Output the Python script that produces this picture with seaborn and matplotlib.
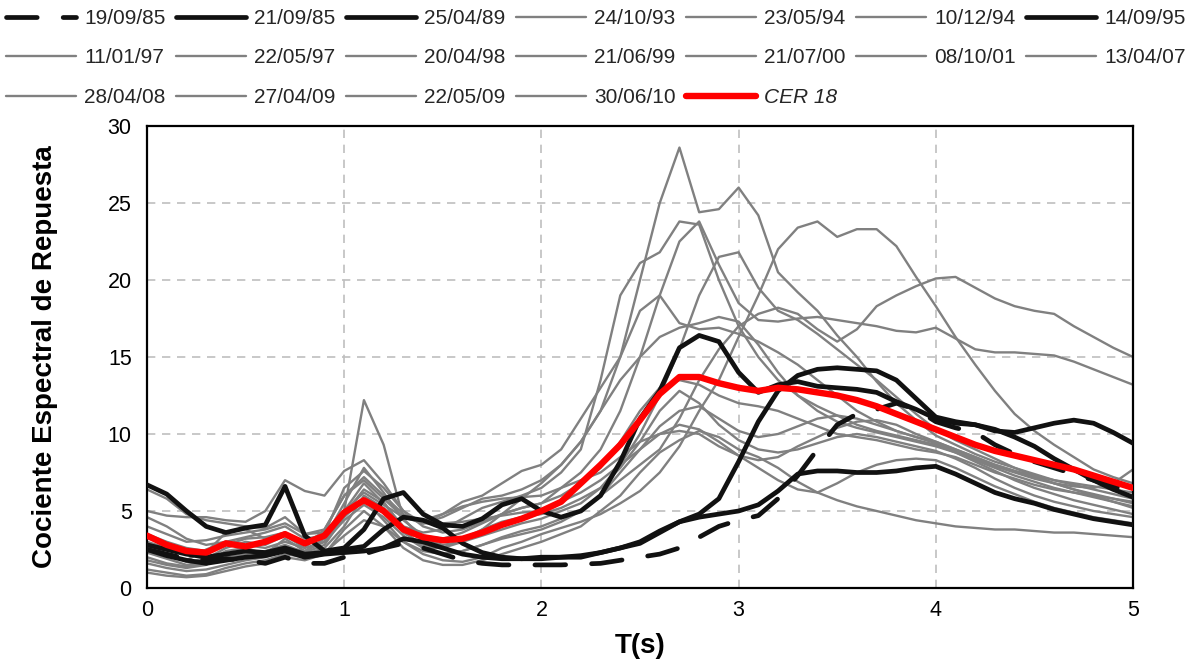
import numpy as np
import matplotlib
matplotlib.use("Agg")
import matplotlib.pyplot as plt
import seaborn as sns

# Period grid (s)
T = np.round(np.linspace(0, 5, 51), 2)

# ---- Black series ----
s_190985 = [2.5, 2.2, 1.9, 1.8, 1.9, 1.8, 1.6, 2.0, 1.6, 1.6,
            2.0, 2.2, 2.6, 2.9, 2.6, 2.2, 1.8, 1.6, 1.5, 1.5,
            1.5, 1.5, 1.55, 1.6, 1.8, 2.0, 2.2, 2.6, 3.3, 4.0,
            4.4, 4.7, 5.8, 7.3, 9.0, 10.6, 11.3, 11.6, 12.0, 11.6,
            10.8, 10.4, 10.1, 9.3, 8.7, 8.2, 7.8, 7.4, 7.0, 6.6, 6.2]
s_210985 = [2.8, 2.5, 2.2, 2.0, 2.2, 2.4, 2.3, 2.6, 2.2, 2.3,
            2.5, 2.7, 3.8, 4.6, 4.4, 3.9, 2.9, 2.3, 2.0, 1.9,
            1.9, 2.0, 2.0, 2.3, 2.6, 2.9, 3.6, 4.3, 4.6, 4.8,
            5.0, 5.4, 6.3, 7.4, 7.6, 7.6, 7.5, 7.5, 7.6, 7.8,
            7.9, 7.4, 6.8, 6.2, 5.8, 5.5, 5.1, 4.8, 4.5, 4.3, 4.1]
s_250489 = [2.5, 2.1, 1.8, 1.6, 1.8, 2.0, 2.1, 2.4, 2.0, 2.2,
            2.3, 2.4, 2.6, 3.2, 3.0, 2.6, 2.2, 2.0, 1.9, 1.9,
            2.0, 2.0, 2.1, 2.3, 2.6, 3.0, 3.7, 4.3, 4.8, 5.8,
            8.2, 10.8, 12.8, 13.8, 14.2, 14.3, 14.2, 14.1, 13.5, 12.3,
            11.1, 10.8, 10.6, 10.3, 9.8, 9.2, 8.4, 7.7, 7.0, 6.4, 5.9]
s_140995 = [6.7, 6.1, 5.0, 4.0, 3.6, 3.9, 4.1, 6.6, 3.4, 2.4,
            2.6, 3.8, 5.8, 6.2, 4.8, 4.1, 4.0, 4.5, 5.4, 5.8,
            5.0, 4.6, 5.0, 6.0, 8.2, 11.0, 12.8, 15.6, 16.4, 16.0,
            14.0, 12.7, 13.2, 13.4, 13.1, 13.0, 12.9, 12.7, 12.1, 11.6,
            11.0, 10.7, 10.6, 10.2, 10.1, 10.4, 10.7, 10.9, 10.7, 10.1, 9.4]

# ---- Gray series ----
s_241093 = [1.6, 1.3, 1.1, 1.2, 1.5, 1.8, 2.0, 2.4, 2.2, 2.6,
            4.0, 6.0, 5.2, 3.6, 2.8, 2.6, 3.0, 3.8, 4.8, 5.8,
            6.8, 8.0, 9.5, 11.5, 15.0, 20.0, 25.0, 28.6, 24.4, 24.6,
            26.0, 24.2, 20.5, 19.2, 18.0, 16.4, 15.0, 13.4, 12.0, 10.9,
            9.9, 9.3, 8.7, 8.2, 7.8, 7.4, 7.0, 6.7, 6.4, 6.1, 5.8]
s_230594 = [6.4, 5.8, 4.8, 4.4, 4.2, 4.0, 3.9, 4.6, 3.5, 3.6,
            5.0, 6.8, 5.5, 4.0, 3.6, 3.8, 4.5, 5.2, 5.6, 6.0,
            6.5, 7.5, 9.0, 13.5, 19.0, 21.1, 21.8, 23.8, 23.6, 20.0,
            17.0, 15.0, 13.5, 12.5, 11.8, 11.2, 10.6, 10.2, 9.9, 9.6,
            9.3, 8.8, 8.3, 7.8, 7.3, 6.9, 6.5, 6.2, 5.9, 5.6, 5.3]
s_101294 = [5.0, 4.7, 4.6, 4.6, 4.4, 4.3, 5.0, 7.0, 6.3, 6.0,
            7.6, 8.3, 6.8, 5.0, 4.0, 3.6, 3.8, 4.3, 4.8, 5.2,
            5.5, 6.5, 7.5, 9.0, 11.5, 15.0, 19.0, 22.5, 23.8, 21.0,
            18.5, 17.4, 17.3, 17.5, 17.6, 17.4, 17.2, 17.0, 16.7, 16.6,
            16.9, 16.2, 15.5, 15.3, 15.3, 15.2, 15.1, 14.7, 14.2, 13.7, 13.2]
s_110197 = [3.5, 3.0, 2.6, 2.4, 2.8, 3.2, 3.3, 3.6, 3.0, 3.6,
            5.0, 12.2, 9.3, 4.5, 3.2, 2.8, 3.0, 3.4, 3.8, 4.2,
            4.5, 5.0, 5.5, 6.5, 8.0, 10.0, 12.5, 15.5, 19.0, 21.5,
            21.8, 19.5, 18.0, 17.4, 16.5, 15.5, 14.5, 13.5, 12.4, 11.3,
            10.3, 9.6, 9.0, 8.4, 7.8, 7.3, 6.8, 6.4, 6.0, 5.6, 5.2]
s_220597 = [3.0, 2.6, 2.2, 2.3, 3.6, 3.8, 3.2, 3.6, 2.8, 3.5,
            6.5, 7.6, 6.5, 5.0, 4.2, 4.8, 5.6, 6.0, 6.8, 7.6,
            8.0, 9.0, 11.0, 13.0, 15.0, 18.0, 19.0, 17.2, 16.8, 16.9,
            16.5, 16.0, 15.3, 14.5, 13.5, 12.5, 11.5, 10.8, 10.2, 9.8,
            9.5, 9.0, 8.5, 8.0, 7.6, 7.2, 6.8, 6.4, 6.1, 5.8, 5.5]
s_200498 = [2.8, 2.2, 1.8, 2.5, 3.0, 2.8, 2.6, 3.0, 2.6, 3.8,
            6.0, 7.0, 5.8, 4.6, 4.2, 4.6, 5.2, 5.8, 6.0, 6.4,
            7.0, 8.0, 9.5, 11.5, 13.5, 15.0, 16.3, 16.9, 17.2, 17.6,
            17.3, 15.8, 14.0, 12.5, 11.5, 10.8, 10.4, 10.1, 9.8, 9.5,
            9.2, 8.8, 8.2, 7.6, 7.0, 6.5, 6.1, 5.7, 5.4, 5.1, 4.8]
s_210699 = [1.2, 1.0, 0.8, 0.9, 1.3, 1.6, 1.8, 2.2, 2.0, 2.3,
            3.4, 4.4, 4.0, 3.0, 2.2, 1.8, 1.7, 2.0, 2.6, 3.0,
            3.5, 3.9, 4.3, 4.8, 5.5, 6.3, 7.5, 9.2, 11.5, 13.5,
            16.3, 19.0, 22.0, 23.4, 23.8, 22.8, 23.3, 23.3, 22.2, 20.2,
            18.3, 16.3, 14.5, 12.8, 11.3, 10.2, 9.3, 8.5, 7.7, 7.2, 6.8]
s_210700 = [2.0, 1.6, 1.4, 1.6, 2.0, 2.2, 2.4, 2.8, 2.3, 2.8,
            4.6, 5.8, 4.4, 3.0, 2.4, 2.2, 2.4, 2.8, 3.3, 3.7,
            4.0, 4.5, 5.0, 6.0, 7.0, 8.0, 9.0, 11.0, 13.5, 15.5,
            17.0, 17.8, 18.2, 17.8, 16.8, 16.0, 16.8, 18.3, 19.0, 19.6,
            20.1, 20.2, 19.5, 18.8, 18.3, 18.0, 17.8, 17.0, 16.3, 15.6, 15.0]
s_081001 = [1.0, 0.8, 0.7, 0.8, 1.1, 1.4, 1.6, 2.0, 1.8, 2.2,
            3.8, 5.0, 4.0, 2.6, 1.8, 1.5, 1.5, 1.8, 2.2, 2.6,
            3.0, 3.5, 4.0, 5.0, 6.0, 7.5, 8.8, 9.6, 10.2, 9.8,
            9.0, 8.5, 7.8, 6.9, 6.2, 5.7, 5.3, 5.0, 4.7, 4.4,
            4.2, 4.0, 3.9, 3.8, 3.8, 3.7, 3.6, 3.6, 3.5, 3.4, 3.3]
s_130407 = [2.3, 1.9, 1.5, 1.7, 2.4, 2.6, 2.2, 3.2, 2.4, 3.0,
            4.8, 6.4, 5.6, 3.8, 2.6, 2.2, 2.4, 2.8, 3.2, 3.5,
            3.8, 4.3, 5.0, 6.0, 7.5, 9.0, 10.0, 10.6, 10.3, 9.5,
            8.6, 7.8, 7.0, 6.4, 6.2, 6.8, 7.5, 8.0, 8.3, 8.4,
            8.3, 7.8, 7.2, 6.6, 6.1, 5.6, 5.2, 4.9, 4.6, 4.4, 4.2]
s_280408 = [4.0, 3.5, 3.0, 3.1, 3.4, 3.6, 3.8, 4.2, 3.5, 3.8,
            6.0, 7.2, 6.0, 4.8, 4.2, 4.2, 4.3, 4.5, 4.7, 4.9,
            5.0, 5.6, 6.2, 7.0, 8.0, 9.0, 10.5, 11.5, 11.8, 11.0,
            10.2, 9.8, 10.0, 10.5, 11.0, 11.2, 11.0, 10.6, 10.2, 9.8,
            9.4, 8.9, 8.4, 7.9, 7.5, 7.1, 6.8, 6.6, 6.5, 6.8, 7.7]
s_270409 = [1.8, 1.5, 1.3, 1.5, 2.2, 2.0, 2.3, 2.6, 2.4, 3.2,
            5.5, 7.8, 6.2, 4.4, 3.4, 3.2, 3.6, 4.2, 4.8, 5.2,
            5.5, 6.0, 6.8, 7.8, 9.5, 11.5, 13.0, 13.5, 13.2, 12.5,
            12.0, 11.8, 11.5, 11.0, 10.5, 10.0, 9.8, 9.6, 9.3, 9.0,
            8.8, 8.5, 8.0, 7.5, 7.1, 6.7, 6.4, 6.2, 6.0, 5.8, 5.6]
s_220509 = [2.6, 2.2, 1.7, 1.9, 2.6, 3.0, 2.8, 3.4, 2.6, 3.0,
            4.4, 5.4, 4.6, 3.4, 2.6, 2.6, 3.2, 3.8, 4.3, 4.6,
            4.8, 5.2, 5.8, 6.5, 7.8, 9.5, 11.5, 12.8, 12.0, 10.6,
            9.6, 9.0, 8.8, 9.0, 9.4, 9.8, 10.0, 9.8, 9.5, 9.2,
            8.9, 8.4, 7.8, 7.1, 6.5, 6.0, 5.6, 5.3, 5.0, 4.8, 4.6]
s_300610 = [4.6, 4.0, 3.2, 2.8, 3.0, 3.3, 3.6, 4.0, 3.2, 3.4,
            5.0, 6.2, 5.4, 4.6, 4.4, 4.8, 5.3, 5.6, 5.8, 5.9,
            6.0, 6.5, 7.0, 7.5, 8.5, 9.5, 10.0, 10.2, 10.0, 9.2,
            8.6, 8.3, 8.5, 9.2, 9.8, 10.4, 10.8, 10.9, 10.6, 10.0,
            9.5, 9.0, 8.5, 8.0, 7.6, 7.3, 7.0, 6.8, 6.6, 6.4, 6.2]

# ---- Red design spectrum ----
s_cer18 = [3.4, 2.8, 2.4, 2.3, 2.9, 2.7, 3.0, 3.5, 2.9, 3.4,
           4.9, 5.7, 5.0, 3.8, 3.3, 3.1, 3.2, 3.6, 4.1, 4.5,
           5.0, 5.6, 6.8, 8.0, 9.3, 10.9, 12.6, 13.7, 13.7, 13.3,
           13.0, 12.8, 13.0, 12.9, 12.7, 12.5, 12.2, 11.8, 11.3, 10.8,
           10.3, 9.8, 9.3, 8.9, 8.6, 8.3, 8.0, 7.7, 7.3, 6.9, 6.5]

# legend order (row-major as in the reference)
labels = ["19/09/85", "21/09/85", "25/04/89", "24/10/93", "23/05/94", "10/12/94", "14/09/95",
          "11/01/97", "22/05/97", "20/04/98", "21/06/99", "21/07/00", "08/10/01", "13/04/07",
          "28/04/08", "27/04/09", "22/05/09", "30/06/10", "CER 18"]
values = [s_190985, s_210985, s_250489, s_241093, s_230594, s_101294, s_140995,
          s_110197, s_220597, s_200498, s_210699, s_210700, s_081001, s_130407,
          s_280408, s_270409, s_220509, s_300610, s_cer18]
kinds = ["dash", "black", "black", "gray", "gray", "gray", "black",
         "gray", "gray", "gray", "gray", "gray", "gray", "gray",
         "gray", "gray", "gray", "gray", "red"]

style = {
    "dash": dict(color="#111111", lw=3.4, z=4),
    "black": dict(color="#111111", lw=3.4, z=3),
    "gray": dict(color="#808080", lw=1.7, z=2),
    "red": dict(color="#FF0000", lw=4.6, z=5),
}

sns.set_theme(style="white")
plt.rcParams["font.family"] = ["Liberation Sans", "DejaVu Sans"]

fig = plt.figure(figsize=(11.91, 6.64), dpi=100)
ax = fig.add_axes([147 / 1191, 1 - 588 / 664, (1133 - 147) / 1191, (588 - 126) / 664])

handles = {}
for lab, vals, kind in zip(labels, values, kinds):
    st = style[kind]
    sns.lineplot(x=T, y=vals, ax=ax, color=st["color"], linewidth=st["lw"],
                 estimator=None, sort=False, legend=False, zorder=st["z"])
    ln = ax.lines[-1]
    ln.set_solid_capstyle("round")
    ln.set_solid_joinstyle("round")
    if kind == "dash":
        ln.set_linestyle((0, (6.5, 5.5)))
        ln.set_dash_capstyle("round")
    handles[lab] = ln

ax.set_xlim(0, 5)
ax.set_ylim(0, 30)
ax.set_xticks(np.arange(0, 6, 1))
ax.set_yticks(np.arange(0, 31, 5))
ax.grid(True, color="#BFBFBF", linestyle=(0, (5, 4)), linewidth=1.2, zorder=0)
ax.set_axisbelow(True)
for sp in ax.spines.values():
    sp.set_color("black")
    sp.set_linewidth(1.6)
    sp.set_visible(True)
ax.tick_params(axis="both", length=0, labelsize=15.5, colors="black")
ax.tick_params(axis="y", pad=11)
ax.tick_params(axis="x", pad=9)

ax.set_xlabel("T(s)", fontsize=20, fontweight="bold", color="black")
ax.set_ylabel("Cociente Espectral de Repuesta", fontsize=20, fontweight="bold", color="black")
ax.xaxis.set_label_coords(0.5, (588 - 646) / 462)
ax.yaxis.set_label_coords((45 - 147) / 986, 0.5)
ax.xaxis.label.set_va("center")
ax.yaxis.label.set_va("center")

# column-major reordering so the legend reads row by row
order = []
for c in range(7):
    rows = 3 if c < 5 else 2
    for r in range(rows):
        order.append(r * 7 + c)
leg = fig.legend([handles[labels[i]] for i in order], [labels[i] for i in order],
                 loc="upper left", bbox_to_anchor=(6 / 1191, 1 - 9 / 664), ncol=7,
                 frameon=False, fontsize=15, handlelength=3.35, handletextpad=0.4,
                 columnspacing=0.5, labelspacing=0.98, borderaxespad=0, borderpad=0)
for t in leg.get_texts():
    if t.get_text() == "CER 18":
        t.set_fontstyle("italic")

fig.savefig("out.png", dpi=100)
